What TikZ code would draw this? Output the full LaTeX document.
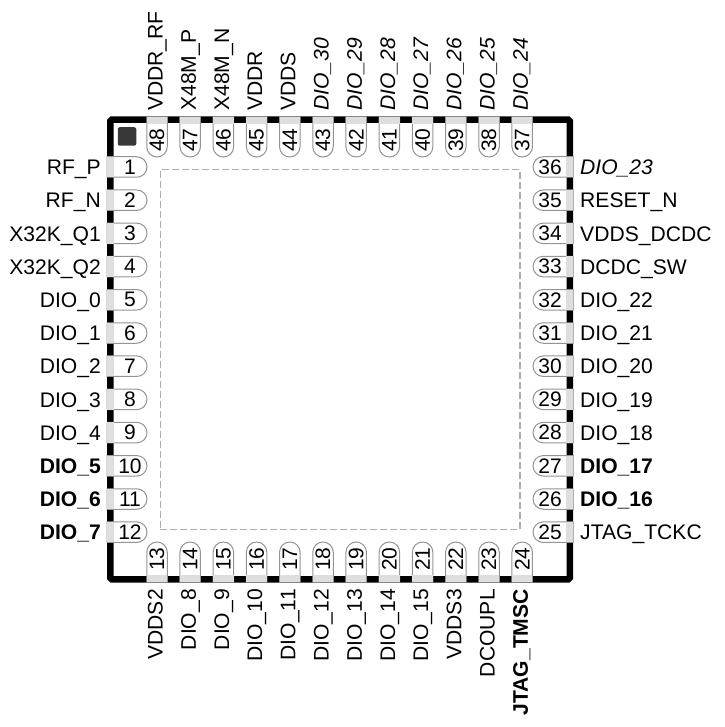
\documentclass[tikz,border=0pt]{standalone}
\usepackage{fontspec}
\setmainfont{Liberation Sans}
\usetikzlibrary{shapes.misc, positioning, calc}

\begin{document}
\begin{tikzpicture}[
        x=1pt, y=-1pt,
        chip/.style={rectangle, draw=black, line width=6.5pt, rounded corners=1.5pt, minimum size=459.5pt, inner sep=0pt, outer sep=0pt},
        core/.style={rectangle, draw=black!32, line width=1.5pt, dash pattern=on 6.5pt off 3.5pt, minimum size=359.5pt, inner sep=0pt},
        dotmark/.style={rectangle, fill=black!78, rounded corners=2pt, minimum size=18.5pt, inner sep=0pt},
        pinbox/.style={rounded rectangle, rounded rectangle west arc=none, draw=black!42, line width=1pt, fill=white, minimum width=40pt, minimum height=20.5pt, inner sep=0pt, outer sep=0pt},
        pinstrip/.style={rectangle, fill=black!13, minimum width=7pt, minimum height=20.5pt, inner sep=0pt, outer sep=0pt},
        pinnum/.style={inner sep=0pt, font=\fontsize{21}{24}\selectfont},
        pinlab/.style={inner sep=0pt, text height=15.2pt, text depth=0pt, font=\fontsize{21.1}{24}\selectfont}
    ]
        \useasboundingbox (0,0) rectangle (724,727);
        \node[chip] (package) at (340,349.5) {};
        \node[core] (pad) at (340,349.5) {};
        \node[dotmark] (marker) at (127,136.5) {};
        \foreach \n/\txt [evaluate=\n as \py using 167+(\n-1)*33.2] in {1/RF\_P, 2/RF\_N, 3/X32K\_Q1, 4/X32K\_Q2, 5/DIO\_0, 6/DIO\_1, 7/DIO\_2, 8/DIO\_3, 9/DIO\_4, 10/\textbf{DIO\_5}, 11/\textbf{DIO\_6}, 12/\textbf{DIO\_7}} {
            \node[pinbox, anchor=west] (p\n) at (107,\py) {};
            \node[pinstrip, anchor=west] (s\n) at (p\n.west) {};
            \node[pinnum] (n\n) at ([xshift=3pt]p\n.center) {\n};
            \node[pinlab, anchor=east] (l\n) at ([xshift=-6pt]p\n.west) {\txt};
        }
        \foreach \n/\txt [evaluate=\n as \py using 167+(36-\n)*33.2] in {36/\textit{DIO\_23}, 35/RESET\_N, 34/VDDS\_DCDC, 33/DCDC\_SW, 32/DIO\_22, 31/DIO\_21, 30/DIO\_20, 29/DIO\_19, 28/DIO\_18, 27/\textbf{DIO\_17}, 26/\textbf{DIO\_16}, 25/JTAG\_TCKC} {
            \node[pinbox, rotate=180, anchor=west] (p\n) at (573,\py) {};
            \node[pinstrip, anchor=east] (s\n) at (p\n.west) {};
            \node[pinnum] (n\n) at ([xshift=-3pt]p\n.center) {\n};
            \node[pinlab, anchor=west] (l\n) at ([xshift=7pt]p\n.west) {\txt};
        }
        \foreach \n/\txt [evaluate=\n as \px using 157+(48-\n)*33.2] in {48/VDDR\_RF, 47/X48M\_P, 46/X48M\_N, 45/VDDR, 44/VDDS, 43/\textit{DIO\_30}, 42/\textit{DIO\_29}, 41/\textit{DIO\_28}, 40/\textit{DIO\_27}, 39/\textit{DIO\_26}, 38/\textit{DIO\_25}, 37/\textit{DIO\_24}} {
            \node[pinbox, rotate=-90, anchor=west] (p\n) at (\px,117) {};
            \node[pinstrip, rotate=-90, anchor=west] (s\n) at (p\n.west) {};
            \node[pinnum, rotate=90] (n\n) at ([yshift=-3pt]p\n.center) {\n};
            \node[pinlab, rotate=90, anchor=west] (l\n) at ([xshift=-2pt, yshift=6pt]p\n.west) {\txt};
        }
        \foreach \n/\txt [evaluate=\n as \px using 157+(\n-13)*33.2] in {13/VDDS2, 14/DIO\_8, 15/DIO\_9, 16/DIO\_10, 17/DIO\_11, 18/DIO\_12, 19/DIO\_13, 20/DIO\_14, 21/DIO\_15, 22/VDDS3, 23/DCOUPL, 24/\textbf{JTAG\_TMSC}} {
            \node[pinbox, rotate=90, anchor=west] (p\n) at (\px,582) {};
            \node[pinstrip, rotate=90, anchor=west] (s\n) at (p\n.west) {};
            \node[pinnum, rotate=90] (n\n) at ([yshift=3pt]p\n.center) {\n};
            \node[pinlab, rotate=90, anchor=east] (l\n) at ([xshift=-2pt, yshift=-7pt]p\n.west) {\txt};
        }
\end{tikzpicture}
\end{document}
